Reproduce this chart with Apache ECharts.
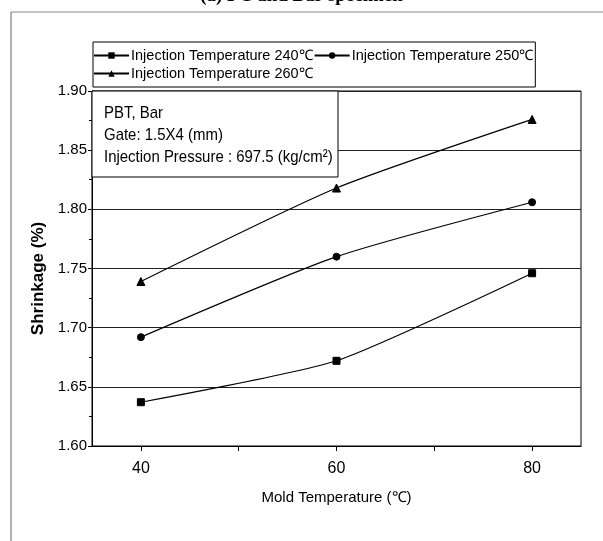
<!DOCTYPE html>
<html>
<head>
<meta charset="utf-8">
<script src="https://cdn.jsdelivr.net/npm/echarts@6/dist/echarts.min.js"></script>
<style>
html,body{margin:0;padding:0;background:#fff;}
#c{width:603px;height:541px;}
</style>
</head>
<body>
<div id="c"></div>
<script>
var moldTemps = [40, 60, 80];
var seriesNames = ['Injection Temperature 240\u2103', 'Injection Temperature 250\u2103', 'Injection Temperature 260\u2103'];
var shrink240 = [1.637, 1.672, 1.746];
var shrink250 = [1.692, 1.760, 1.806];
var shrink260 = [1.739, 1.818, 1.876];
var xTickValues = [40, 50, 60, 70, 80];
var xLabelValues = [40, 60, 80];
var annotationLines = ['PBT, Bar', 'Gate: 1.5X4 (mm)', 'Injection Pressure : 697.5 (kg/cm\u00b2)'];
var titleText = '(a) PC and Bar specimen';

var FONT = "'Liberation Sans', Arial, sans-serif";

function pairs(xs, ys) { return xs.map(function (x, i) { return [x, ys[i]]; }); }

var chart = echarts.init(document.getElementById('c'), null, {renderer: 'canvas'});
var symbols = ['rect', 'circle', 'triangle'];
var sizes = [7, 7, 8];
var datasets = [shrink240, shrink250, shrink260];

function boxText(str, y) {
  return {type: 'text', x: 104, y: y, scaleX: 0.88, z: 51,
    style: {text: str, font: "17px " + FONT, fill: '#000', verticalAlign: 'middle'}};
}

chart.setOption({
  animation: false,
  backgroundColor: '#fff',
  grid: {left: 92, right: 22, top: 91, bottom: 95, show: true, borderColor: '#000', borderWidth: 1, backgroundColor: 'transparent'},
  legend: {
    left: 93, top: 42, width: 460,
    itemGap: 1, itemWidth: 35, itemHeight: 8,
    padding: [5, 2, 5, 0],
    borderColor: '#000', borderWidth: 1,
    backgroundColor: '#fff',
    textStyle: {fontFamily: FONT, fontSize: 14.5, color: '#000', lineHeight: 17, padding: [0, 0, 0, -3]},
    data: seriesNames
  },
  xAxis: {
    type: 'value', min: 35, max: 85,
    name: 'Mold Temperature (\u2103)', nameLocation: 'middle', nameGap: 44,
    nameTextStyle: {fontFamily: FONT, fontSize: 15, color: '#000'},
    axisLine: {show: true, lineStyle: {color: '#000', width: 1}},
    axisTick: {show: true, length: 5, customValues: xTickValues, lineStyle: {color: '#000'}},
    axisLabel: {customValues: xLabelValues, margin: 15, fontFamily: FONT, fontSize: 16, color: '#000'},
    splitLine: {show: false}
  },
  yAxis: {
    type: 'value', min: 1.60, max: 1.90, interval: 0.05,
    name: 'Shrinkage (%)', nameLocation: 'middle', nameGap: 37, nameRotate: 90,
    nameTextStyle: {fontFamily: FONT, fontSize: 17, fontWeight: 'bold', color: '#000', padding: [0, 20, 0, 0]},
    axisLine: {show: true, lineStyle: {color: '#000', width: 1}},
    axisTick: {show: true, length: 4, lineStyle: {color: '#000'}},
    minorTick: {show: true, splitNumber: 2, length: 3, lineStyle: {color: '#000'}},
    axisLabel: {margin: 5, fontFamily: FONT, fontSize: 15, color: '#000',
      formatter: function (v) { return v.toFixed(2); }},
    splitLine: {show: true, lineStyle: {color: '#222', width: 1}}
  },
  graphic: [
    {type: 'line', shape: {x1: 11, y1: 12, x2: 603, y2: 12}, style: {stroke: '#888', lineWidth: 1}, z: 1},
    {type: 'line', shape: {x1: 11, y1: 12, x2: 11, y2: 541}, style: {stroke: '#666', lineWidth: 1}, z: 1},
    {type: 'text', left: 'center', top: -13, style: {text: titleText, font: "bold 19px 'Liberation Serif', serif", fill: '#000'}, z: 10},
    {type: 'rect', shape: {x: 92, y: 91, width: 246, height: 86}, style: {fill: '#fff', stroke: '#000', lineWidth: 1}, z: 50},
    boxText(annotationLines[0], 113),
    boxText(annotationLines[1], 135),
    boxText(annotationLines[2], 157)
  ],
  series: datasets.map(function (d, i) {
    return {
      name: seriesNames[i], type: 'line', data: pairs(moldTemps, d),
      smooth: 0.2, symbol: symbols[i], symbolSize: sizes[i], showSymbol: true,
      lineStyle: {color: '#000', width: 1.2},
      itemStyle: {color: '#000', borderColor: '#000'},
      z: 3
    };
  })
});
</script>
</body>
</html>
